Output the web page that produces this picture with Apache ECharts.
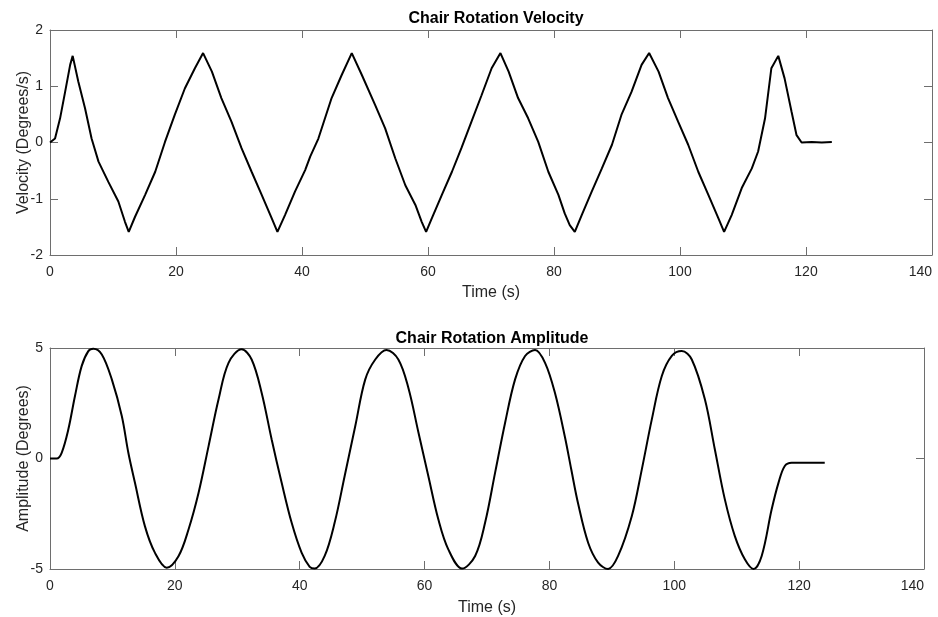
<!DOCTYPE html>
<html>
<head>
<meta charset="utf-8">
<script src="https://cdn.jsdelivr.net/npm/echarts@6/dist/echarts.min.js"></script>
<style>
html,body{margin:0;padding:0;background:#fff;}
#chart{width:938px;height:617px;}
</style>
</head>
<body>
<div id="chart"></div>
<script>
// Chair rotation velocity (deg/s) — time (s) and value
const velocityTime = [0,0.8,1.6,2.4,3.2,3.6,4.5,5.56,6.6,7.7,9.26,10.85,11.9,12.5,13.5,15.1,16.7,18.25,19.8,21.4,23.0,24.3,25.7,27.2,28.8,30.4,32.0,33.6,35.2,36.1,37.3,38.9,40.5,41.3,42.6,44.7,46.3,47.9,49.5,51.6,53.2,54.8,56.4,58.0,59.0,59.7,60.6,62.2,63.8,65.3,66.9,68.5,70.1,71.5,72.8,74.3,75.9,77.5,79.1,80.7,81.7,82.5,83.3,84.4,86.0,87.6,89.2,90.7,92.3,93.9,95.1,96.6,98.1,99.7,101.3,102.9,104.5,106.1,107.0,108.2,109.8,111.4,112.4,113.5,114.5,115.6,116.6,117.7,118.5,119.3,120.9,122.5,124.1];
const velocityValue = [0,0.07,0.43,0.9,1.38,1.54,1.08,0.61,0.07,-0.34,-0.70,-1.05,-1.41,-1.59,-1.32,-0.93,-0.52,0.01,0.49,0.96,1.32,1.59,1.26,0.79,0.37,-0.10,-0.52,-0.93,-1.35,-1.59,-1.29,-0.87,-0.49,-0.25,0.07,0.79,1.2,1.59,1.2,0.67,0.25,-0.28,-0.76,-1.11,-1.41,-1.59,-1.35,-0.93,-0.52,-0.10,0.37,0.84,1.32,1.59,1.26,0.79,0.43,0.01,-0.52,-0.93,-1.26,-1.47,-1.59,-1.29,-0.87,-0.46,-0.04,0.49,0.9,1.38,1.59,1.26,0.79,0.37,-0.04,-0.52,-0.93,-1.35,-1.59,-1.29,-0.81,-0.46,-0.16,0.43,1.32,1.54,1.14,0.55,0.13,0.0,0.01,0,0.01];

// Chair rotation amplitude (deg) — time (s) and value
const amplitudeTime = [0,1.07,1.87,2.94,4.0,5.07,6.14,6.94,8.3,9.9,11.5,12.55,13.6,15.2,16.8,18.7,20.6,22.2,23.8,25.4,27.0,28.6,30.7,32.3,33.9,35.5,37.1,38.7,40.3,41.6,42.4,44.0,45.6,47.2,48.9,50.5,52.1,53.9,55.8,57.4,59.0,60.6,62.2,63.8,66.0,68.1,69.7,71.3,72.9,74.5,76.1,77.7,79.3,80.9,82.5,83.5,84.6,86.2,87.8,89.4,91.0,93.2,94.8,96.4,98.0,99.6,101.2,102.8,104.9,106.5,108.1,109.7,111.3,112.7,114.0,115.6,116.7,117.7,118.8,120.9,124.1];
const amplitudeValue = [0,0,0.26,1.32,2.83,4.18,4.86,4.97,4.71,3.58,1.92,0.26,-1.09,-3.06,-4.26,-4.94,-4.41,-3.2,-1.55,0.56,2.68,4.33,4.94,4.48,2.98,0.87,-1.09,-2.90,-4.26,-4.9,-4.98,-4.41,-2.90,-0.79,1.47,3.58,4.48,4.91,4.48,3.2,1.2,-0.79,-2.75,-4.11,-4.98,-4.41,-2.90,-0.64,1.62,3.58,4.64,4.91,4.33,2.95,0.95,-0.5,-2.05,-3.81,-4.71,-5.0,-4.41,-2.60,-0.49,1.77,3.73,4.64,4.86,4.48,2.68,0.41,-1.85,-3.51,-4.56,-5.0,-4.41,-2.30,-1.09,-0.34,-0.19,-0.19,-0.19];

const xTicks = [0,20,40,60,80,100,120,140];
const velTicks = [-2,-1,0,1,2];
const ampTicks = [-5,0,5];

const velocityData = velocityTime.map((t,i)=>[t, velocityValue[i]]);
const amplitudeData = amplitudeTime.map((t,i)=>[t, amplitudeValue[i]]);

const FONT = '"Liberation Sans", Arial, sans-serif';
const AXC = '#6e6e6e';
const TXC = '#262626';

function xAx(grid, pos, labels, name, gap) {
  return {
    type:'value', gridIndex:grid, position:pos, min:xTicks[0], max:xTicks[xTicks.length-1], interval:20,
    axisLine:{show:true, onZero:false, lineStyle:{color:AXC, width:1}},
    axisTick:{show:true, inside:true, length:8, lineStyle:{color:AXC}},
    axisLabel:{show:labels, color:TXC, fontFamily:FONT, fontSize:14, margin:10, alignMaxLabel:'right'},
    splitLine:{show:false},
    name: name || '', nameLocation:'middle', nameGap:gap || 28, nameMoveOverlap:false,
    nameTextStyle:{color:TXC, fontFamily:FONT, fontSize:16}
  };
}
function yAx(grid, pos, labels, ticks, interval, name) {
  return {
    type:'value', gridIndex:grid, position:pos, min:ticks[0], max:ticks[ticks.length-1], interval:interval,
    axisLine:{show:true, onZero:false, lineStyle:{color:AXC, width:1}},
    axisTick:{show:true, inside:true, length:8, lineStyle:{color:AXC}},
    axisLabel:{show:labels, color:TXC, fontFamily:FONT, fontSize:14, margin:7},
    splitLine:{show:false},
    name: name || '', nameLocation:'middle', nameGap:18, nameRotate:90, nameMoveOverlap:false,
    nameTextStyle:{color:TXC, fontFamily:FONT, fontSize:16}
  };
}

const option = {
  backgroundColor:'#ffffff',
  animation:false,
  title:[
    {text:'Chair Rotation Velocity', left:491, top:6, textAlign:'center',
     textStyle:{fontFamily:FONT, fontSize:16, fontWeight:'bold', color:'#000'}},
    {text:'Chair Rotation Amplitude', left:487, top:326, textAlign:'center',
     textStyle:{fontFamily:FONT, fontSize:16, fontWeight:'bold', color:'#000'}}
  ],
  grid:[
    {left:50, top:30, width:882, height:225, containLabel:false, outerBoundsMode:'none'},
    {left:50, top:348, width:874, height:221, containLabel:false, outerBoundsMode:'none'}
  ],
  xAxis:[
    xAx(0,'bottom',true,'Time (s)',30),
    xAx(0,'top',false),
    xAx(1,'bottom',true,'Time (s)',31),
    xAx(1,'top',false)
  ],
  yAxis:[
    yAx(0,'left',true,velTicks,1,'Velocity (Degrees/s)'),
    yAx(0,'right',false,velTicks,1),
    yAx(1,'left',true,ampTicks,5,'Amplitude (Degrees)'),
    yAx(1,'right',false,ampTicks,5)
  ],
  series:[
    {type:'line', xAxisIndex:0, yAxisIndex:0, data:velocityData, showSymbol:false,
     lineStyle:{color:'#000', width:2}, smooth:false},
    {type:'line', xAxisIndex:2, yAxisIndex:2, data:amplitudeData, showSymbol:false,
     lineStyle:{color:'#000', width:2}, smooth:0.35}
  ]
};

const chart = echarts.init(document.getElementById('chart'), null, {renderer:'canvas'});
chart.setOption(option);
</script>
</body>
</html>
